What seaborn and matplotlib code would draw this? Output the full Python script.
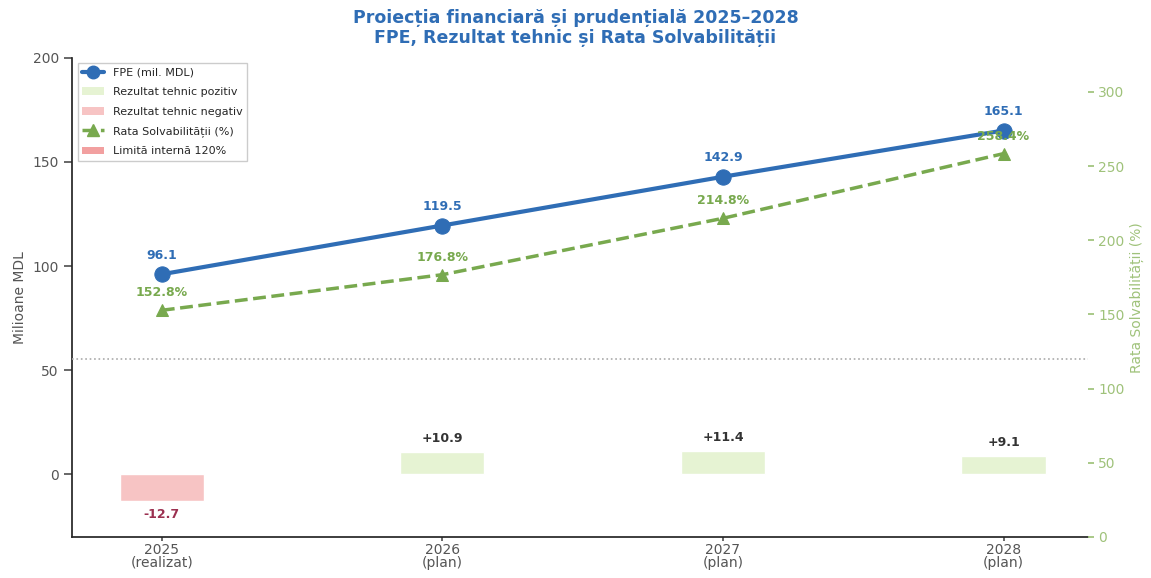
import numpy as np
import pandas as pd
import seaborn as sns
import matplotlib.pyplot as plt
from matplotlib.patches import Patch
from matplotlib.lines import Line2D

# data
years = ["2025\n(realizat)", "2026\n(plan)", "2027\n(plan)", "2028\n(plan)"]
fpe = [96.1, 119.5, 142.9, 165.1]
rezultat_tehnic = [-12.7, 10.9, 11.4, 9.1]
rata_solv = [152.8, 176.8, 214.8, 258.4]
limita = 120

BLUE = "#2f6db5"
GREEN = "#78a94e"
POS = "#e6f3d3"
NEG = "#f7c4c4"
LIM = "#f2a0a0"
GRAY = "#555555"

sns.set_theme(style="ticks")
plt.rcParams["font.family"] = ["DejaVu Sans"]

df = pd.DataFrame({
    "x": np.arange(len(years)),
    "an": years,
    "fpe": fpe,
    "rt": rezultat_tehnic,
    "rs": rata_solv,
})
df["semn"] = np.where(df["rt"] >= 0, "poz", "neg")

fig, ax = plt.subplots(figsize=(11.51, 5.78), dpi=100)
fig.subplots_adjust(left=0.0626, right=0.945, bottom=0.071, top=0.9)

# technical result bars
sns.barplot(data=df, x="x", y="rt", hue="semn", palette={"poz": POS, "neg": NEG},
            width=0.3, dodge=False, legend=False, ax=ax, native_scale=True,
            saturation=1)
for _, r in df.iterrows():
    if r["rt"] >= 0:
        ax.annotate(f"+{r['rt']:.1f}", (r["x"], r["rt"]), xytext=(0, 5),
                    textcoords="offset points", ha="center", va="bottom",
                    fontsize=9, fontweight="bold", color="#333333")
    else:
        ax.annotate(f"{r['rt']:.1f}", (r["x"], r["rt"]), xytext=(0, -5),
                    textcoords="offset points", ha="center", va="top",
                    fontsize=9, fontweight="bold", color="#9b3050")

# FPE line
sns.lineplot(data=df, x="x", y="fpe", color=BLUE, linewidth=3, marker="o",
             markersize=11, markeredgecolor=BLUE, ax=ax, zorder=5)
for _, r in df.iterrows():
    ax.annotate(f"{r['fpe']:.1f}", (r["x"], r["fpe"]), xytext=(0, 9),
                textcoords="offset points", ha="center", va="bottom",
                fontsize=9, fontweight="bold", color=BLUE)

ax.set_xlim(-0.32, 3.3)
ax.set_ylim(-30, 200)
ax.set_xticks(df["x"])
ax.set_xticklabels(years, color=GRAY, fontsize=10, linespacing=0.95)
ax.set_yticks([0, 50, 100, 150, 200])
ax.tick_params(axis="y", colors=GRAY, labelsize=10)
ax.tick_params(axis="x", colors=GRAY, length=3, pad=1)
ax.set_ylabel("Milioane MDL", color=GRAY, fontsize=10)
ax.set_xlabel("")
sns.despine(ax=ax)

# solvency ratio on secondary axis
ax2 = ax.twinx()
sns.lineplot(data=df, x="x", y="rs", color=GREEN, linewidth=2.5, linestyle="--",
             marker="^", markersize=9, markeredgecolor=GREEN, ax=ax2)
for _, r in df.iterrows():
    ax2.annotate(f"{r['rs']:.1f}%", (r["x"], r["rs"]), xytext=(0, 8),
                 textcoords="offset points", ha="center", va="bottom",
                 fontsize=9, fontweight="bold", color=GREEN)
ax2.axhline(limita, color="#aaaaaa", linestyle=":", linewidth=1.2)
ax2.set_ylim(0, 323)
ax2.set_yticks([0, 50, 100, 150, 200, 250, 300])
ax2.tick_params(axis="y", colors="#9fc27a", labelsize=10, length=4)
ax2.set_ylabel("Rata Solvabilității (%)", color="#9fc27a", fontsize=10)
ax2.set_xlabel("")
for s in ("top", "right", "left", "bottom"):
    ax2.spines[s].set_visible(False)
ax2.set_xlim(-0.32, 3.3)

handles = [
    Line2D([], [], color=BLUE, linewidth=3, marker="o", markersize=9),
    Patch(facecolor=POS, edgecolor="none"),
    Patch(facecolor=NEG, edgecolor="none"),
    Line2D([], [], color=GREEN, linewidth=2.5, linestyle="--", marker="^", markersize=8),
    Patch(facecolor=LIM, edgecolor="none"),
]
labels = ["FPE (mil. MDL)", "Rezultat tehnic pozitiv", "Rezultat tehnic negativ",
          "Rata Solvabilității (%)", "Limită internă 120%"]
ax.legend(handles, labels, loc="upper left", fontsize=8, frameon=True,
          framealpha=1, edgecolor="#cccccc", fancybox=False, labelspacing=0.85)

fig.suptitle("Proiecția financiară și prudențială 2025–2028\nFPE, Rezultat tehnic și Rata Solvabilității",
             color="#2f6db5", fontsize=12.5, fontweight="bold", y=0.985, linespacing=1.2)

fig.savefig("out.png", dpi=100)
